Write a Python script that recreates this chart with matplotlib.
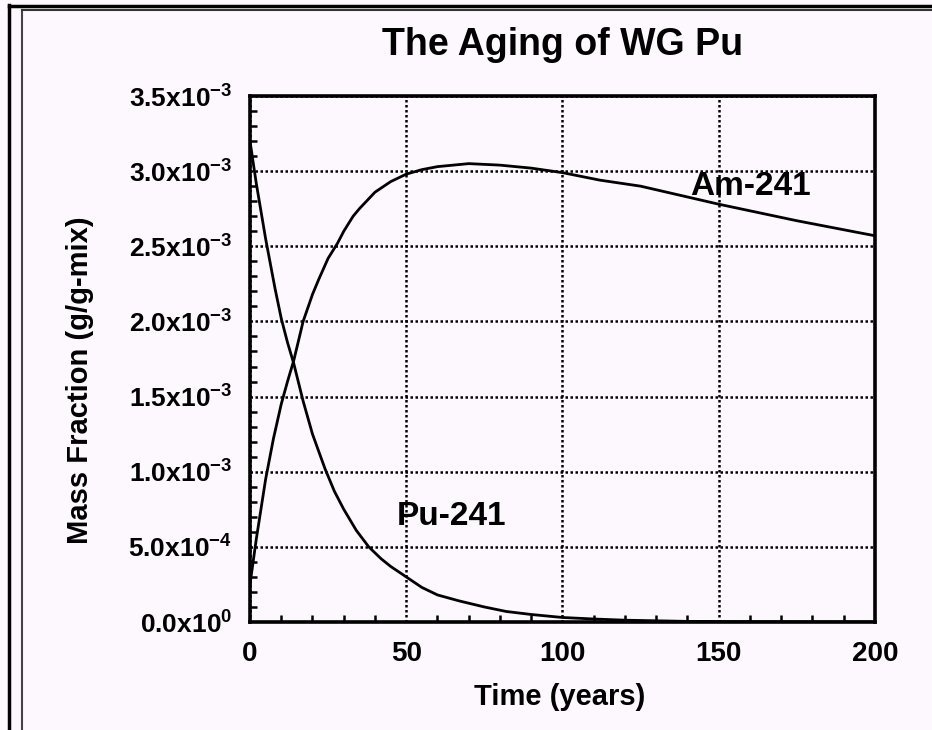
import matplotlib
matplotlib.use("Agg")
import matplotlib.pyplot as plt
from matplotlib.lines import Line2D
from matplotlib.ticker import FixedLocator, FixedFormatter, MultipleLocator

plt.rcParams['font.family'] = ['Liberation Sans', 'DejaVu Sans']
plt.rcParams['mathtext.fontset'] = 'custom'
plt.rcParams['mathtext.rm'] = 'Liberation Sans:bold'
plt.rcParams['mathtext.bf'] = 'Liberation Sans:bold'
plt.rcParams['mathtext.it'] = 'Liberation Sans:bold'

title = "The Aging of WG Pu"
xlabel = "Time (years)"
ylabel = "Mass Fraction (g/g-mix)"

# Pu-241, mass fraction
pu_t = [0, 2, 5, 8, 10, 12, 14, 17, 20, 24, 27, 30, 34, 38, 42, 45, 50, 55, 60, 67, 75, 82, 90, 100,
        110, 120, 140, 160, 180, 200]
pu_v = [3.2e-3, 2.92e-3, 2.55e-3, 2.22e-3, 2.02e-3, 1.86e-3, 1.72e-3, 1.47e-3, 1.25e-3, 1.02e-3,
        0.87e-3, 0.75e-3, 0.61e-3, 0.5e-3, 0.42e-3, 0.37e-3, 0.30e-3, 0.23e-3, 0.18e-3, 0.14e-3,
        0.10e-3, 0.07e-3, 0.05e-3, 0.03e-3, 0.02e-3, 0.012e-3, 0.004e-3, 0.002e-3, 0.001e-3, 0.0]

# Am-241
am_t = [0, 2, 5, 7.5, 10, 12, 14, 17, 20, 22, 25, 28, 30, 33, 35, 40, 45, 50, 55, 60, 65, 70, 80, 90,
        100, 112, 125, 150, 175, 200]
am_v = [0.25e-3, 0.55e-3, 0.95e-3, 1.22e-3, 1.45e-3, 1.6e-3, 1.74e-3, 2.0e-3, 2.18e-3, 2.28e-3,
        2.42e-3, 2.52e-3, 2.6e-3, 2.7e-3, 2.75e-3, 2.86e-3, 2.93e-3, 2.98e-3, 3.01e-3, 3.03e-3,
        3.04e-3, 3.05e-3, 3.04e-3, 3.02e-3, 2.99e-3, 2.94e-3, 2.9e-3, 2.78e-3, 2.67e-3, 2.57e-3]

yticks = [0.0, 0.5e-3, 1.0e-3, 1.5e-3, 2.0e-3, 2.5e-3, 3.0e-3, 3.5e-3]
ytick_labels = [r"$\mathbf{0.0x10^{0}}$", r"$\mathbf{5.0x10^{-4}}$", r"$\mathbf{1.0x10^{-3}}$",
                r"$\mathbf{1.5x10^{-3}}$", r"$\mathbf{2.0x10^{-3}}$", r"$\mathbf{2.5x10^{-3}}$",
                r"$\mathbf{3.0x10^{-3}}$", r"$\mathbf{3.5x10^{-3}}$"]
xticks = [0, 50, 100, 150, 200]
xtick_labels = ["0", "50", "100", "150", "200"]

bg = '#fdf8fd'
fig = plt.figure(figsize=(9.32, 7.30), dpi=100, facecolor=bg)
ax = fig.add_axes([250/932, 1-622/730, 625/932, 526/730])
ax.set_facecolor(bg)

ax.plot(pu_t, pu_v, color='black', lw=2.0, zorder=3)
ax.plot(am_t, am_v, color='black', lw=2.0, zorder=3)

ax.set_xlim(0, 200)
ax.set_ylim(0, 3.5e-3)
ax.xaxis.set_major_locator(FixedLocator(xticks))
ax.xaxis.set_major_formatter(FixedFormatter(xtick_labels))
ax.yaxis.set_major_locator(FixedLocator(yticks))
ax.yaxis.set_major_formatter(FixedFormatter(ytick_labels))
ax.xaxis.set_minor_locator(MultipleLocator(10))
ax.yaxis.set_minor_locator(MultipleLocator(1e-4))

ax.grid(True, which='major', color='black', linestyle=(0, (1.0, 1.0)), linewidth=1.8)
ax.tick_params(which='both', direction='in', color='black', width=1.8)
ax.tick_params(which='major', length=0)
ax.tick_params(axis='x', which='major', labelsize=20, pad=14)
ax.tick_params(axis='y', which='major', labelsize=19, pad=13)
ax.tick_params(which='minor', length=5)
for lab in ax.get_xticklabels():
    lab.set_fontweight('bold')
for s in ax.spines.values():
    s.set_linewidth(2.6)
    s.set_color('black')

ax.text(0.5, 1.097, title, transform=ax.transAxes, fontsize=27, fontweight='bold',
        ha='center', va='center')
ax.set_xlabel(xlabel, fontsize=21, fontweight='bold', va='center')
ax.xaxis.set_label_coords(0.496, -0.1426)
ax.set_ylabel(ylabel, fontsize=21, fontweight='bold', va='center')
ax.yaxis.set_label_coords(-0.272, 0.46)

ax.text(160, 2.90e-3, "Am-241", fontsize=24, fontweight='bold', ha='center', va='center')
ax.text(64.6, 0.70e-3, "Pu-241", fontsize=24, fontweight='bold', ha='center', va='center')

# outer page frame lines
fig.add_artist(Line2D([9/932, 9/932], [0, 1-5/730], transform=fig.transFigure, color='black', lw=2.5))
fig.add_artist(Line2D([9/932, 1], [1-5.5/730, 1-5.5/730], transform=fig.transFigure, color='black', lw=2.5))
fig.add_artist(Line2D([22/932, 22/932], [0, 1-10/730], transform=fig.transFigure, color='#444444', lw=1.5))
fig.add_artist(Line2D([22/932, 1], [1-10/730, 1-10/730], transform=fig.transFigure, color='#333333', lw=1.5))

fig.savefig("out.png", dpi=100, facecolor=bg)
